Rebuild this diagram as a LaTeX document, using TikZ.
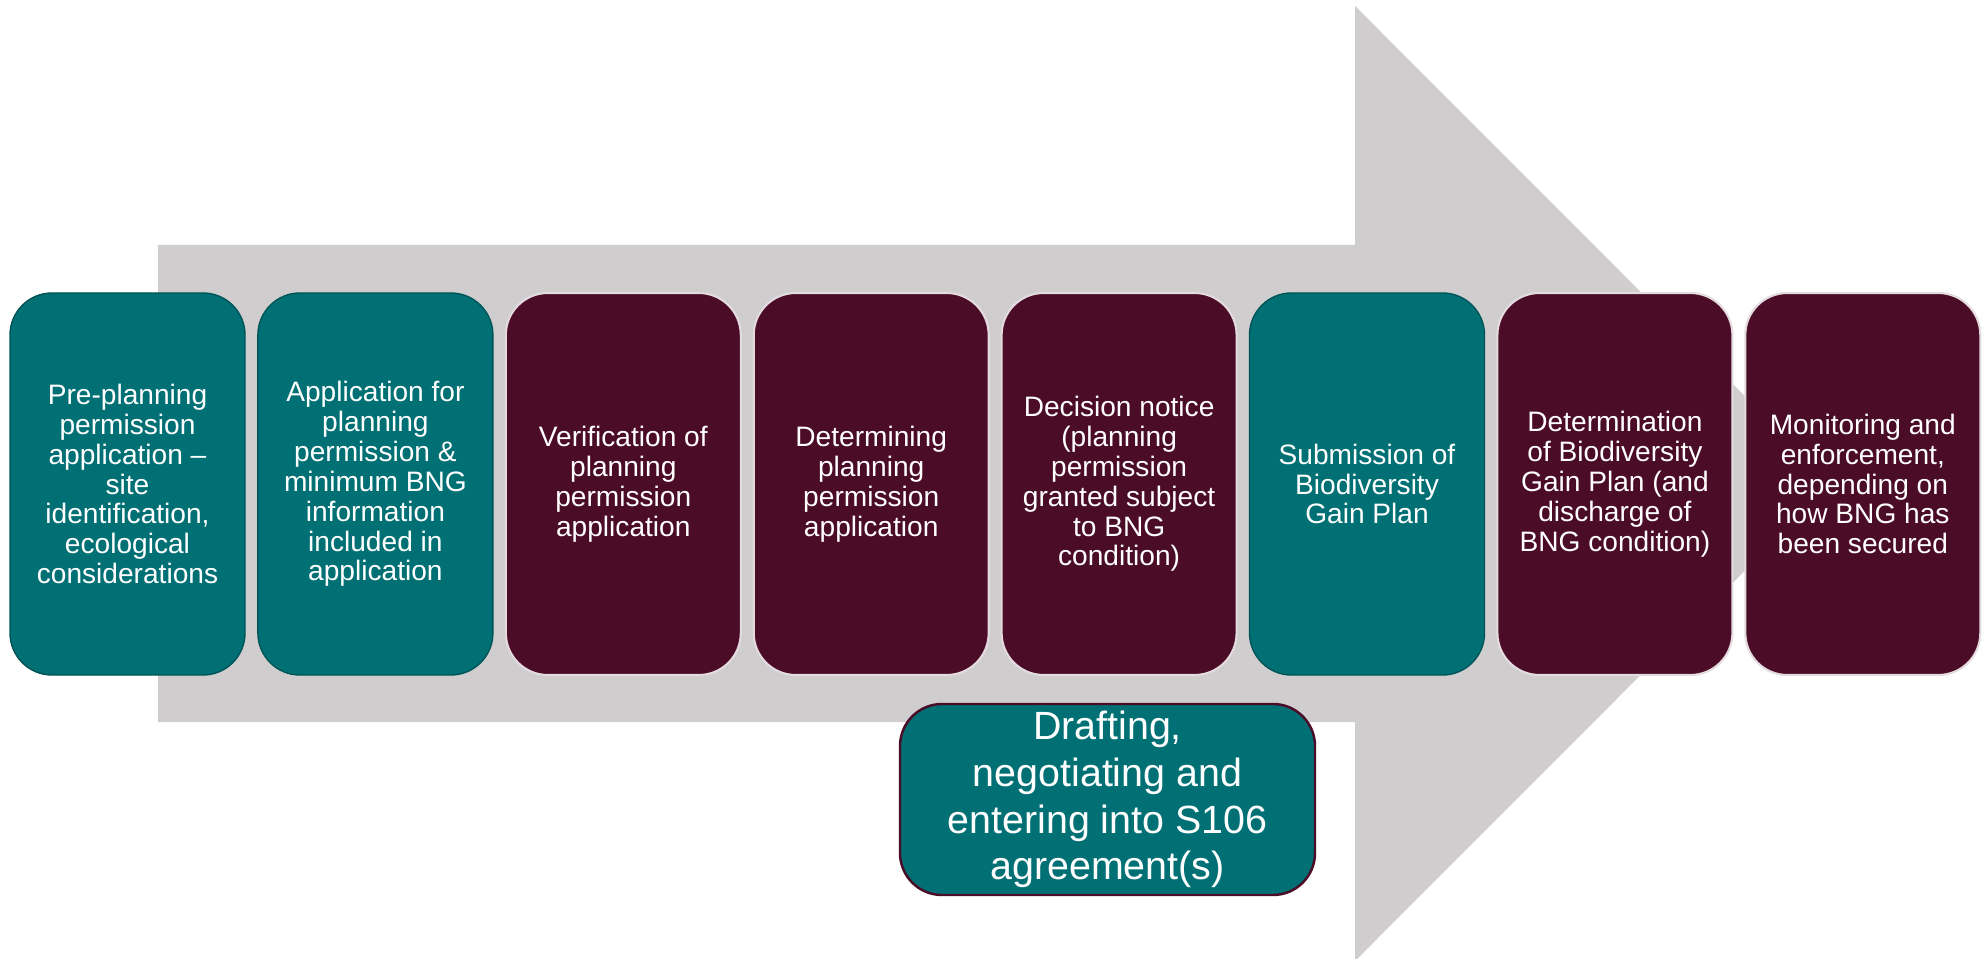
\documentclass[tikz,border=0pt]{standalone}
\usepackage{fontspec}
\setmainfont{Liberation Sans}
\usepackage{tikz}
\usetikzlibrary{positioning}
\definecolor{stagegreen}{RGB}{0,112,117}
\definecolor{stagered}{RGB}{75,12,40}
\definecolor{arrowfill}{RGB}{208,205,206}
\tikzset{
    stage/.style={
        rectangle,
        rounded corners=0.42cm,
        text=white,
        align=center,
        inner sep=0pt,
        outer sep=0pt,
        minimum width=2.35cm,
        minimum height=3.82cm,
        font=\fontsize{8}{8.5}\selectfont
    },
    greenstage/.style={
        stage,
        fill=stagegreen,
        draw=stagegreen!75!black
    },
    redstage/.style={
        stage,
        fill=stagered,
        draw=white!85!stagered,
        line width=0.6pt
    },
    agreement/.style={
        stage,
        fill=stagegreen,
        draw=stagered,
        line width=0.7pt,
        minimum width=4.15cm,
        minimum height=1.91cm,
        font=\fontsize{11.2}{13.3}\selectfont
    }
}

\begin{document}
\begin{tikzpicture}[node distance=0.129cm]
\useasboundingbox (0,0) rectangle (19.86,9.58);
% Process arrow behind the stages
\fill[arrowfill] (1.58,2.36) -- (1.58,7.13) -- (13.55,7.13) -- (13.55,9.52)
    -- (18.32,4.745) -- (13.55,-0.03) -- (13.55,2.36) -- cycle;

% Stages
\node[greenstage, anchor=west] (preapp) at (0.10,4.74) {Pre-planning\\permission\\application --\\site\\identification,\\ecological\\considerations};
\node[greenstage, right=of preapp] (apply) {Application for\\planning\\permission \&\\minimum BNG\\information\\included in\\application};
\node[redstage, right=of apply] (verify) {Verification of\\planning\\permission\\application};
\node[redstage, right=of verify] (determine) {Determining\\planning\\permission\\application};
\node[redstage, right=of determine] (decision) {Decision notice\\(planning\\permission\\granted subject\\to BNG\\condition)};
\node[greenstage, right=of decision] (submit) {Submission of\\Biodiversity\\Gain Plan};
\node[redstage, right=of submit] (discharge) {Determination\\of Biodiversity\\Gain Plan (and\\discharge of\\BNG condition)};
\node[redstage, right=of discharge] (monitor) {Monitoring and\\enforcement,\\depending on\\how BNG has\\been secured};

% S106 agreement
\node[agreement] (s106) at (11.075,1.585) {Drafting,\\negotiating and\\entering into S106\\agreement(s)};
\end{tikzpicture}
\end{document}
